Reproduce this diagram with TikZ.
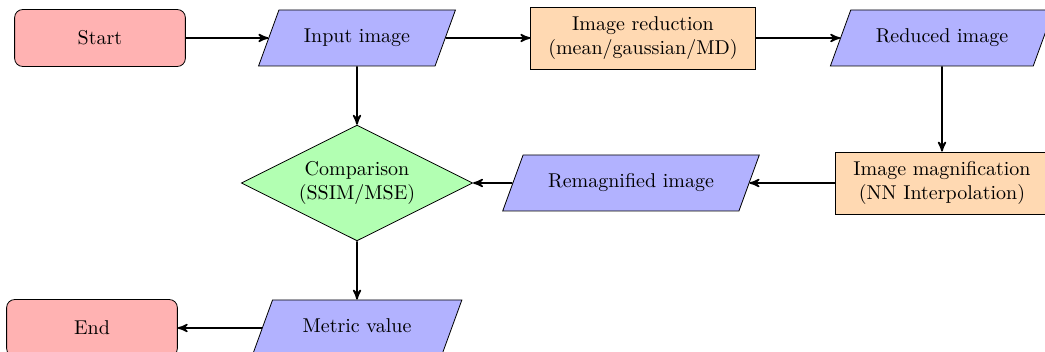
\documentclass[tikz,border=0pt]{standalone}
\usetikzlibrary{shapes.geometric,arrows}
\tikzset{
  startstop/.style={rectangle, rounded corners, minimum width=3cm, minimum height=1cm, text centered, draw=black, fill=red!30},
  io/.style={trapezium, trapezium left angle=70, trapezium right angle=110, inner xsep=12.5pt, inner ysep=9.5pt, text height=7pt, text depth=2pt, text centered, draw=black, fill=blue!30},
  process/.style={rectangle, minimum width=3cm, minimum height=31pt, inner xsep=8.8pt, align=center, draw=black, fill=orange!30},
  decision/.style={diamond, aspect=2, inner sep=2.4pt, align=center, draw=black, fill=green!30},
  arrow/.style={thick,->,>=stealth'}
}
\begin{document}
\begin{tikzpicture}[x=0.5pt,y=-0.5pt]
\useasboundingbox (0,0) rectangle (1045,352);
\node[startstop] (start) at (100,38) {Start};
\node[io] (in) at (357,38) {Input image};
\node[process] (red) at (643,38) {Image reduction\\(mean/gaussian/MD)};
\node[io] (redimg) at (942,38) {Reduced image};
\node[process] (mag) at (942,183) {Image magnification\\(NN Interpolation)};
\node[io] (remag) at (631,183) {Remagnified image};
\node[decision] (cmp) at (357,183) {Comparison\\(SSIM/MSE)};
\node[io, inner xsep=15pt] (metric) at (357,328) {Metric value};
\node[startstop] (stop) at (92,328) {End};
\draw[arrow] (start) -- (in);
\draw[arrow] (in) -- (red);
\draw[arrow] (red) -- (redimg);
\draw[arrow] (redimg) -- (mag);
\draw[arrow] (mag) -- (remag);
\draw[arrow] (remag) -- (cmp);
\draw[arrow] (in) -- (cmp);
\draw[arrow] (cmp) -- (metric);
\draw[arrow] (metric) -- (stop);
\end{tikzpicture}
\end{document}
